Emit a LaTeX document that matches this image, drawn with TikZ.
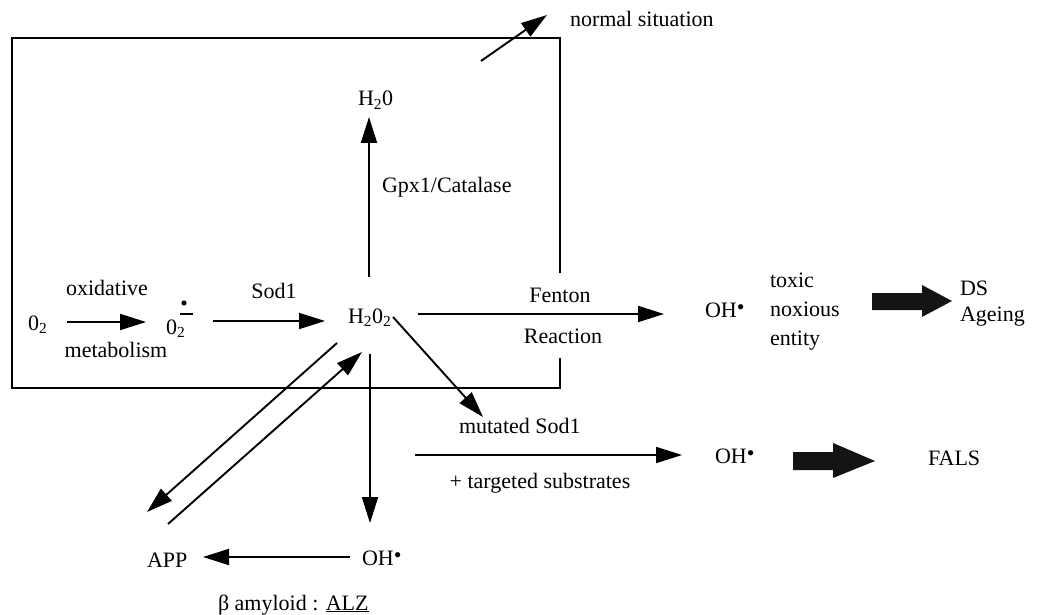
\documentclass[tikz,border=0pt]{standalone}
\usepackage{fontspec}
\setmainfont{Liberation Serif}
\usetikzlibrary{arrows.meta}
\begin{document}
\begin{tikzpicture}[x=1pt,y=-1pt,
  txt/.style={inner sep=0pt,outer sep=0pt,font=\fontsize{22}{26}\selectfont},
  arr/.style={line width=1.9pt,-{Triangle[length=26pt,width=16pt]}},
  frame/.style={line width=1.8pt},
  bold/.style={fill=black!92}]
\useasboundingbox (0,0) rectangle (1041,615);
% texts
\node[txt,anchor=base west] (ns) at (570,27) {normal situation};
\node[txt,anchor=base west] (h2o) at (358,106) {H\textsubscript{2}0};
\node[txt,anchor=base west] (gpx) at (382,192) {Gpx1/Catalase};
\node[txt,anchor=base] (oxi) at (107,295) {oxidative};
\node[txt,anchor=base] (met) at (116,357) {metabolism};
\node[txt,anchor=base] (sod) at (274,298) {Sod1};
\node[txt,anchor=base west] (o2) at (28,330) {0\textsubscript{2}};
\node[txt,anchor=base west] (sup) at (166,334) {0\textsubscript{2}};
\node[txt,anchor=base west] (h2o2) at (348,323) {H\textsubscript{2}0\textsubscript{2}};
\node[txt,anchor=base] (fen) at (560,302) {Fenton};
\node[txt,anchor=base] (rea) at (563,343) {Reaction};
\node[txt,anchor=base west] (oh1) at (705,317) {OH\raisebox{3pt}{\textbullet}};
\node[txt,anchor=base west] (tox) at (770,287) {toxic};
\node[txt,anchor=base west] (nox) at (770,316) {noxious};
\node[txt,anchor=base west] (ent) at (770,345) {entity};
\node[txt,anchor=base west] (ds) at (960,295) {DS};
\node[txt,anchor=base west] (age) at (960,321) {Ageing};
\node[txt,anchor=base west] (mut) at (459,433) {mutated Sod1};
\node[txt,anchor=base] (tgt) at (540,488) {+ targeted substrates};
\node[txt,anchor=base west] (oh2) at (715,463) {OH\raisebox{3pt}{\textbullet}};
\node[txt,anchor=base west] (fals) at (928,465) {FALS};
\node[txt,anchor=base west] (oh3) at (362,565) {OH\raisebox{3pt}{\textbullet}};
\node[txt,anchor=base west] (app) at (147,567) {APP};
\node[txt,anchor=base west] (beta) at (218,610) {β amyloid : \underline{ALZ}};
% superoxide radical mark (bar with dot above)
\draw[line width=2pt] ([shift={(14,-20)}]sup.base west) -- ([shift={(27,-20)}]sup.base west);
\fill ([shift={(18,-31)}]sup.base west) circle (2.6pt);
% frame (normal situation)
\draw[frame] (560,273) -- (560,38) -- (12,38) -- (12,388) -- (560,388) -- (560,358);
% arrows
\coordinate (nsfree) at (481,61);
\draw[arr] (nsfree) -- ([shift={(-23,-12)}]ns.base west);
\draw[arr] ([shift={(39,-8)}]o2.base west) -- ([shift={(-20,-12)}]sup.base west);
\draw[arr] ([shift={(47,-13)}]sup.base west) -- ([shift={(-23,-2)}]h2o2.base west);
\draw[arr] ([shift={(21,-46)}]h2o2.base west) -- ([shift={(11,11)}]h2o.base west);
\draw[arr] ([shift={(70,-9)}]h2o2.base west) -- ([shift={(-41,-3)}]oh1.base west);
\draw[arr] ([shift={(45,-6)}]h2o2.base west) -- ([shift={(24,-16)}]mut.base west);
\draw[arr] ([shift={(22,31)}]h2o2.base west) -- ([shift={(8,-42)}]oh3.base west);
\draw[arr] ([shift={(-11,20)}]h2o2.base west) -- ([shift={(0,-55)}]app.base west);
\draw[arr] ([shift={(21,-43)}]app.base west) -- ([shift={(14,29)}]h2o2.base west);
\draw[arr] ([shift={(-12,-8)}]oh3.base west) -- ([shift={(56,-10)}]app.base west);
\draw[arr] ([shift={(-44,22)}]mut.base west) -- ([shift={(-33,-8)}]oh2.base west);
% bold arrows
\fill[bold] (872,293) -- (922,293) -- (922,285) -- (952,301) -- (922,317) -- (922,310) -- (872,310) -- cycle;
\fill[bold] (793,452) -- (833,452) -- (833,443) -- (875,461) -- (833,478) -- (833,470) -- (793,470) -- cycle;
\end{tikzpicture}
\end{document}
